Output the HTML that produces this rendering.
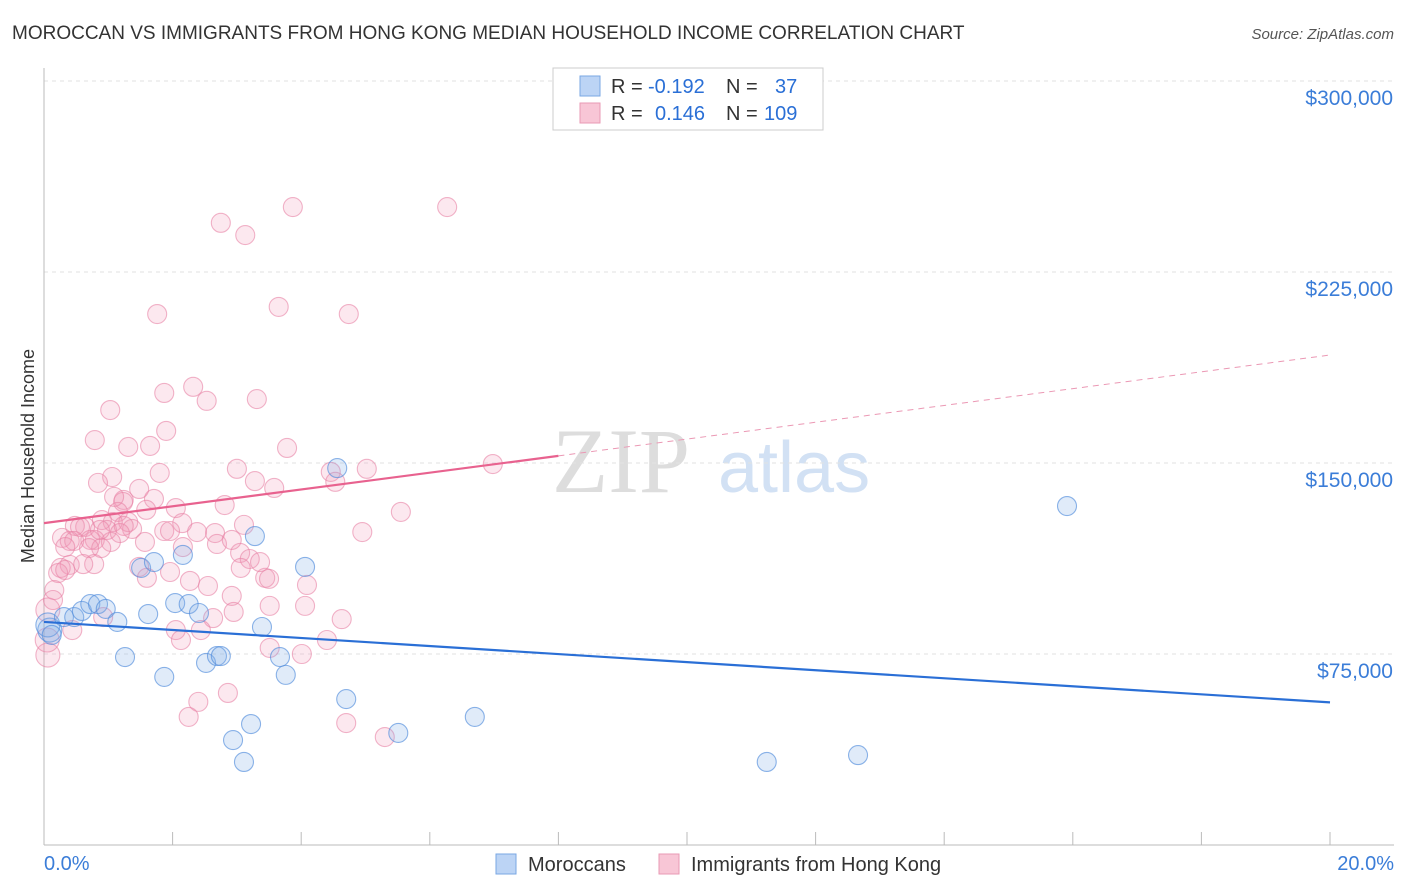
<!DOCTYPE html>
<html><head><meta charset="utf-8"><style>
body{margin:0;background:#fff;font-family:"Liberation Sans",sans-serif;}
#c{position:relative;width:1406px;height:892px;overflow:hidden}
</style></head><body>
<div id="c">
<svg id="s" width="1406" height="892" xmlns="http://www.w3.org/2000/svg">
<text x="12" y="39" font-size="19" fill="#333">MOROCCAN VS IMMIGRANTS FROM HONG KONG MEDIAN HOUSEHOLD INCOME CORRELATION CHART</text>
<text x="1394" y="39" font-size="15" fill="#555" font-style="italic" text-anchor="end">Source: ZipAtlas.com</text>
<text x="34" y="456" font-size="18" fill="#333" text-anchor="middle" transform="rotate(-90 34 456)">Median Household Income</text>
<g><text x="552" y="492" font-size="92" fill="#ddd" font-family="Liberation Serif,serif">ZIP</text><text x="718" y="492" font-size="72" fill="#d2e1f4">atlas</text></g>
<g id="grid"></g><g id="pts"></g><g id="lines"></g>
<g>
<rect x="553" y="68" width="270" height="62" fill="#fff" stroke="#ccc"/>
<rect x="580" y="76" width="20" height="20" fill="#bcd4f5" stroke="#7aa7e3"/>
<rect x="580" y="103" width="20" height="20" fill="#f8c6d6" stroke="#e99ab4"/>
<text y="93" font-size="20" fill="#333"><tspan x="611">R = </tspan><tspan x="648" fill="#2a6fd6">-0.192</tspan><tspan x="726">N = </tspan><tspan x="775" fill="#2a6fd6">37</tspan></text>
<text y="120" font-size="20" fill="#333"><tspan x="611">R = </tspan><tspan x="655" fill="#2a6fd6">0.146</tspan><tspan x="726">N = </tspan><tspan x="764" fill="#2a6fd6">109</tspan></text>
</g>
<g>
<rect x="496" y="854" width="20" height="20" fill="#bcd4f5" stroke="#7aa7e3"/>
<text x="528" y="871" font-size="20" fill="#333">Moroccans</text>
<rect x="659" y="854" width="20" height="20" fill="#f8c6d6" stroke="#e99ab4"/>
<text x="691" y="871" font-size="20" fill="#333">Immigrants from Hong Kong</text>
</g>
</svg>
<script>
const yTicks=[75,150,225,300];
const yTickLabels=["$75,000","$150,000","$225,000","$300,000"];
const xTickLabels=["0.0%","20.0%"];
const blueX=[0.09,0.06,0.12,0.31,0.47,0.59,0.72,0.84,0.96,1.14,1.26,1.51,1.62,1.71,1.87,2.04,2.16,2.25,2.41,2.52,2.69,2.75,2.94,3.11,3.22,3.28,3.39,3.67,3.76,4.06,4.56,4.70,5.51,6.70,11.24,12.66,15.91];
const blueY=[84.4,86.4,82.5,89.5,89.5,91.9,94.6,94.6,92.7,87.6,73.8,108.8,90.7,111.1,66.0,95.0,113.9,94.6,91.1,71.5,74.2,74.2,41.2,32.6,47.5,121.3,85.6,73.8,66.8,109.2,148.0,57.3,44.0,50.3,32.6,35.3,133.1];
const pinkX=[2.75,3.13,3.87,6.27,3.65,1.76,4.74,2.32,1.87,2.53,3.31,1.03,1.90,0.79,1.31,1.65,3.78,3.00,1.80,4.46,5.02,6.98,1.06,0.84,3.28,4.53,3.58,1.24,1.71,1.48,2.81,1.23,2.05,5.55,1.59,1.15,1.31,2.15,1.07,0.64,0.48,0.56,0.90,1.37,0.98,1.24,1.87,2.38,2.66,1.96,1.18,0.28,0.40,0.79,0.72,1.04,1.57,4.95,2.69,0.89,0.47,0.70,3.05,2.16,3.20,0.40,0.26,0.78,0.22,0.61,1.48,0.33,1.96,3.06,1.60,3.44,3.50,2.27,2.55,4.09,0.16,2.92,3.51,4.06,0.06,0.92,2.63,2.95,4.63,0.44,2.05,2.44,2.13,4.40,3.51,4.01,0.06,0.05,2.86,2.40,2.25,4.70,5.30,0.14,0.33,0.87,1.09,3.36,3.11,2.92];
const pinkY=[244.3,239.5,250.5,250.5,211.3,208.5,208.5,179.9,177.5,174.4,175.1,170.8,162.6,159.0,156.3,156.7,155.9,147.7,146.1,146.5,147.7,149.6,144.5,142.2,142.9,142.6,140.2,135.5,135.9,139.8,133.5,134.7,132.3,130.8,131.6,130.8,126.8,126.4,126.8,124.9,125.3,124.9,127.6,124.1,123.7,125.3,123.3,122.9,122.5,123.3,122.5,120.6,119.4,119.8,119.8,119.0,119.0,122.9,118.2,116.6,119.4,116.6,114.7,117.0,112.3,110.0,108.8,110.3,106.8,110.3,109.2,108.0,107.2,108.8,104.9,104.9,104.5,103.7,101.7,102.1,100.1,97.8,93.9,93.9,92.3,89.5,89.1,91.5,88.7,84.4,84.4,84.4,80.5,80.5,77.4,75.0,74.6,80.5,59.7,56.2,50.3,47.9,42.4,96.2,117.0,123.7,136.7,111.1,125.7,119.8];
const blueTrend=[87.6,56.0];
const pinkTrend=[126.4,192.4];
const NS="http://www.w3.org/2000/svg";
const X=v=>44+v/20*1286, Y=v=>845-v/75*191;
function mk(t,a,p){const e=document.createElementNS(NS,t);for(const k in a)e.setAttribute(k,a[k]);p.appendChild(e);return e;}
const g=document.getElementById('grid');
yTicks.forEach((t,i)=>{
 const l=mk('line',{x1:44,x2:1394,y1:Y(t),y2:Y(t),stroke:'#e2e2e2','stroke-dasharray':'4,4'},g);
 
 
 const tx=mk('text',{x:1393,y:Y(t)+24,'font-size':21,fill:'#3b7dd8','text-anchor':'end'},g);tx.textContent=yTickLabels[i];
 
 
});
const ax=mk('line',{x1:44,x2:44,y1:68,y2:845,stroke:'#bbb'},g);


const bx=mk('line',{x1:44,x2:1394,y1:845,y2:845,stroke:'#bbb'},g);


for(let i=0;i<=10;i++){const t=mk('line',{x1:X(i*2),x2:X(i*2),y1:832,y2:845,stroke:'#bbb'},g);
 
 }
[[0,'start',44],[20,'end',1394]].forEach((d,i)=>{const t=mk('text',{x:d[2],y:870,'font-size':20,fill:'#3b7dd8','text-anchor':d[1]},g);t.textContent=xTickLabels[i];
 
 });
const p=document.getElementById('pts');
pinkX.forEach((x,i)=>{const c=mk('circle',{cx:X(x),cy:Y(pinkY[i]),r:(x<0.1?12:9.5),fill:'rgba(242,150,182,0.22)',stroke:'rgba(232,130,165,0.6)','stroke-width':1.1},p);
 
 });
blueX.forEach((x,i)=>{const c=mk('circle',{cx:X(x),cy:Y(blueY[i]),r:(x<0.1?12:9.5),fill:'rgba(130,175,232,0.25)',stroke:'rgba(80,140,220,0.65)','stroke-width':1.1},p);
 
 });
const L=document.getElementById('lines');
const bl=mk('line',{x1:X(0),y1:Y(blueTrend[0]),x2:X(20),y2:Y(blueTrend[1]),stroke:'#2a6fd6','stroke-width':2.2},L);


const pm=pinkTrend[0]+(pinkTrend[1]-pinkTrend[0])*8/20;
const pl=mk('line',{x1:X(0),y1:Y(pinkTrend[0]),x2:X(8),y2:Y(pm),stroke:'#e8628f','stroke-width':2.2},L);


const pd=mk('line',{x1:X(8),y1:Y(pm),x2:X(20),y2:Y(pinkTrend[1]),stroke:'#eb98b4','stroke-width':1,'stroke-dasharray':'6,5'},L);


</script>
</div></body></html>
